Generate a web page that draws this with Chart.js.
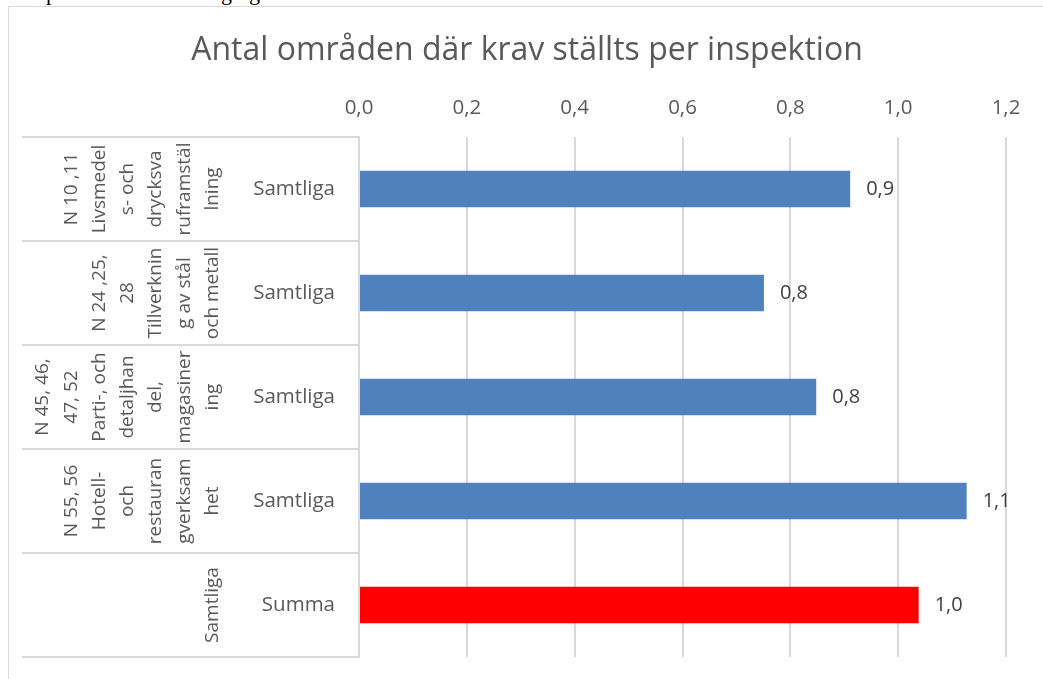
<!DOCTYPE html>
<html>
<head>
<meta charset="utf-8">
<script src="https://cdn.jsdelivr.net/npm/chart.js@4"></script>
<style>
  html, body { margin: 0; padding: 0; background: #fff; overflow: hidden; }
  #page { position: relative; width: 1043px; height: 679px; overflow: hidden; }
  #frame { position: absolute; left: 8px; top: 6px; width: 1100px; height: 700px; border: 1px solid #d9d9d9; }
  #box { position: absolute; left: 0; top: 0; width: 1043px; height: 679px; }
  .cut { position: absolute; top: -20px; font: 22px "Liberation Serif", serif; color: #000; }
</style>
</head>
<body>
<div id="page">
  <span class="cut" style="left:46px">p</span>
  <span class="cut" style="left:221px">g</span>
  <span class="cut" style="left:249px">g</span>
  <div id="frame"></div>
  <div id="box"><canvas id="chart"></canvas></div>
</div>
<script>
  const chartTitle = "Antal områden där krav ställts per inspektion";

  // inner level of the category axis
  const categories = ["Samtliga", "Samtliga", "Samtliga", "Samtliga", "Summa"];

  // outer level, as wrapped in the original
  const groupLines = [
    ["N 10 ,11", "Livsmedel", "s- och", "drycksva", "ruframstäl", "lning"],
    ["N 24 ,25,", "28", "Tillverknin", "g av stål", "och metall"],
    ["N 45, 46,", "47, 52", "Parti-, och", "detaljhan", "del,", "magasiner", "ing"],
    ["N 55, 56", "Hotell-", "och", "restauran", "gverksam", "het"],
    ["Samtliga"]
  ];

  const values = [0.911, 0.751, 0.848, 1.127, 1.038];

  const axisMin = 0;
  const axisMax = 1.2;
  const axisStep = 0.2;

  const blue = "#4f81bd";
  const red = "#ff0000";
  const barColors = [blue, blue, blue, blue, red];

  const fmt = v => v.toFixed(1).replace(".", ",");

  Chart.defaults.font.family = "'Open Sans', sans-serif";

  const titlePlugin = {
    id: "titleText",
    afterDraw(chart) {
      const ctx = chart.ctx;
      ctx.save();
      ctx.font = "32px 'Open Sans'";
      ctx.fillStyle = "#595959";
      ctx.textAlign = "center";
      ctx.textBaseline = "middle";
      ctx.fillText(chartTitle, 527, 51);
      ctx.restore();
    }
  };

  const leftTable = {
    id: "leftTable",
    afterDraw(chart) {
      const ctx = chart.ctx;
      const y = chart.scales.y;
      const n = categories.length;
      const band = (y.bottom - y.top) / n;
      ctx.save();
      ctx.strokeStyle = "#d9d9d9";
      ctx.lineWidth = 2;
      for (let k = 0; k <= n; k++) {
        const py = Math.round(y.top + k * band);
        ctx.beginPath();
        ctx.moveTo(22, py);
        ctx.lineTo(y.right, py);
        ctx.stroke();
      }
      ctx.fillStyle = "#595959";
      ctx.font = "19px 'Open Sans'";
      ctx.textAlign = "center";
      ctx.textBaseline = "alphabetic";
      groupLines.forEach((lines, i) => {
        const cy = y.getPixelForValue(i);
        const last = lines.length - 1;
        lines.forEach((txt, j) => {
          const bx = 218 - (last - j) * 28.3;
          ctx.save();
          ctx.translate(bx, cy);
          ctx.rotate(-Math.PI / 2);
          ctx.fillText(txt, 0, 0);
          ctx.restore();
        });
      });
      ctx.restore();
    }
  };

  const valueLabels = {
    id: "valueLabels",
    afterDatasetsDraw(chart) {
      const ctx = chart.ctx;
      const meta = chart.getDatasetMeta(0);
      ctx.save();
      ctx.font = "20px 'Open Sans'";
      ctx.fillStyle = "#404040";
      ctx.textAlign = "left";
      ctx.textBaseline = "middle";
      meta.data.forEach((bar, i) => {
        ctx.fillText(fmt(values[i]), bar.x + 16, bar.y);
      });
      ctx.restore();
    }
  };

  new Chart(document.getElementById("chart"), {
    type: "bar",
    data: {
      labels: categories,
      datasets: [{
        data: values,
        backgroundColor: barColors,
        categoryPercentage: 1,
        barPercentage: 0.35
      }]
    },
    options: {
      indexAxis: "y",
      responsive: true,
      maintainAspectRatio: false,
      animation: false,
      layout: { padding: { left: 8, top: 85, right: 37, bottom: 22 } },
      plugins: {
        legend: { display: false },
        title: { display: false },
        tooltip: { enabled: false }
      },
      scales: {
        x: {
          position: "top",
          min: axisMin,
          max: axisMax,
          ticks: {
            stepSize: axisStep,
            color: "#595959",
            font: { size: 20.5 },
            padding: 17,
            callback: v => fmt(v)
          },
          grid: { color: "#d9d9d9", lineWidth: 2, drawTicks: false },
          border: { display: false },
          afterFit: s => { s.height = 52; }
        },
        y: {
          ticks: {
            color: "#595959",
            font: { size: 20.5 },
            padding: 0
          },
          grid: { display: false, drawTicks: true, tickLength: 24 },
          border: { display: true, color: "#d9d9d9", width: 2 },
          afterFit: s => { s.width = 351; }
        }
      }
    },
    plugins: [titlePlugin, leftTable, valueLabels]
  });
</script>
</body>
</html>
